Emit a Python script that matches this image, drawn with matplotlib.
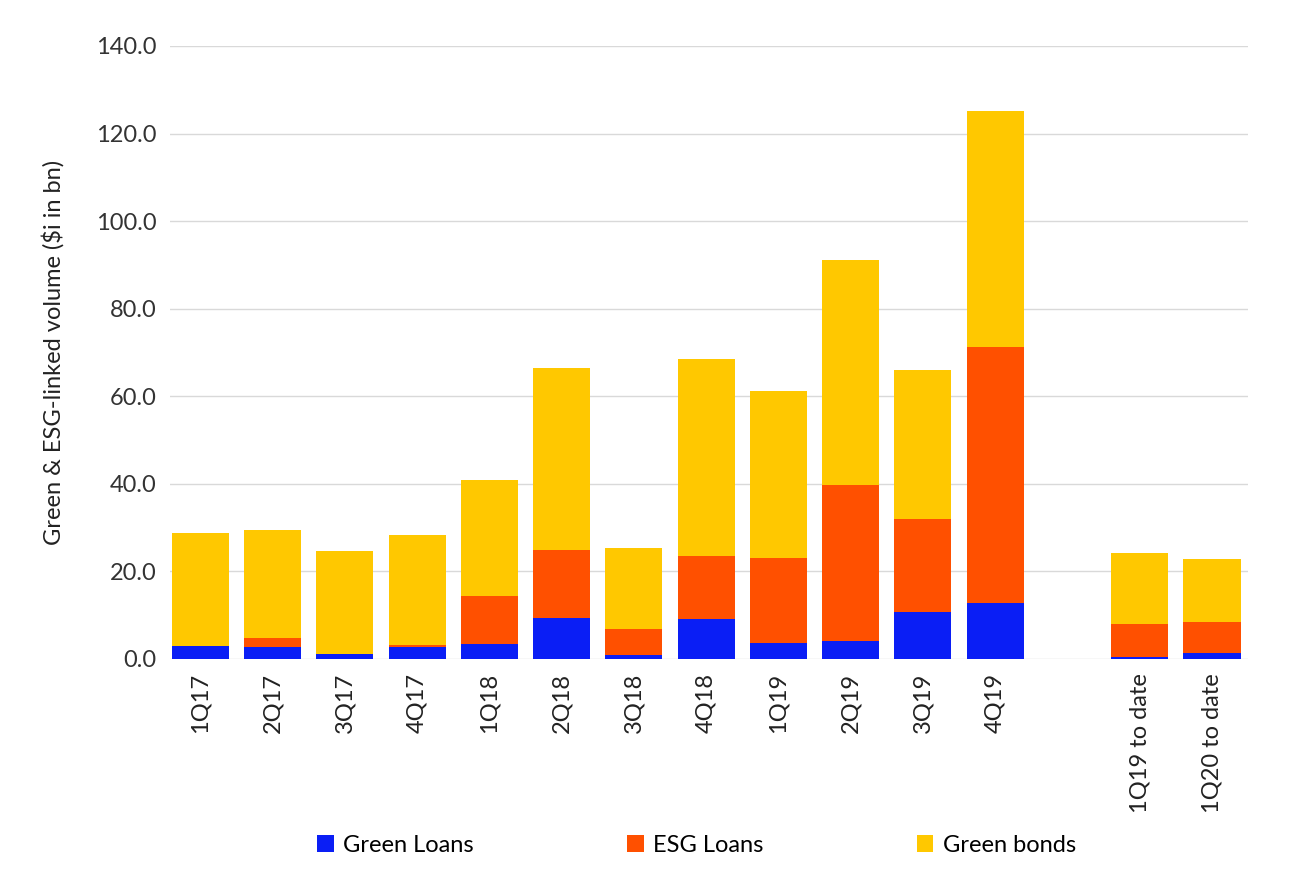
import numpy as np
import matplotlib.pyplot as plt

plt.rcParams['font.family'] = ['Lato', 'DejaVu Sans']

quarters = ['1Q17', '2Q17', '3Q17', '4Q17', '1Q18', '2Q18', '3Q18', '4Q18',
            '1Q19', '2Q19', '3Q19', '4Q19', '', '1Q19 to date', '1Q20 to date']
green_loans = [3.0, 2.7, 1.2, 2.7, 3.5, 9.4, 1.0, 9.1, 3.6, 4.1, 10.8, 12.8, 0, 0.5, 1.4]
esg_loans = [0.0, 2.1, 0.0, 0.5, 10.9, 15.5, 5.8, 14.4, 19.5, 35.7, 21.2, 58.5, 0, 7.6, 7.0]
green_bonds = [25.8, 24.7, 23.5, 25.1, 26.4, 41.5, 18.5, 45.0, 38.1, 51.3, 33.9, 53.8, 0, 16.0, 14.4]

x = np.arange(len(quarters))
gl = np.array(green_loans)
el = np.array(esg_loans)
gb = np.array(green_bonds)

fig = plt.figure(figsize=(13.02, 8.77), dpi=100)
ax = fig.add_axes([0.1306, 0.2486, 0.828, 0.699])

w = 0.79
ax.bar(x, gl, w, color='#0A1EF5', label='Green Loans', zorder=3)
ax.bar(x, el, w, bottom=gl, color='#FF5000', label='ESG Loans', zorder=3)
ax.bar(x, gb, w, bottom=gl + el, color='#FFC800', label='Green bonds', zorder=3)

ax.set_ylim(0, 140)
ax.set_xlim(-0.42, 14.5)
ax.set_yticks(np.arange(0, 141, 20))
ax.set_yticklabels([f'{v:.1f}' for v in np.arange(0, 141, 20)], fontsize=17, color='#333333')
ax.set_xticks(x)
ax.set_xticklabels(quarters, rotation=90, fontsize=17, color='#222222')
ax.tick_params(length=0, pad=10)
ax.yaxis.grid(True, color='#d9d9d9', linewidth=1, zorder=0)
for s in ax.spines.values():
    s.set_visible(False)
ax.set_ylabel('Green & ESG-linked volume ($i in bn)', fontsize=17, color='#222222', labelpad=22)

fig.legend(loc='lower center', bbox_to_anchor=(0.535, 0.0), ncol=3, frameon=False,
           fontsize=17, handlelength=0.7, handleheight=0.7, columnspacing=6.5, handletextpad=0.4)

fig.savefig('out.png', dpi=100)
